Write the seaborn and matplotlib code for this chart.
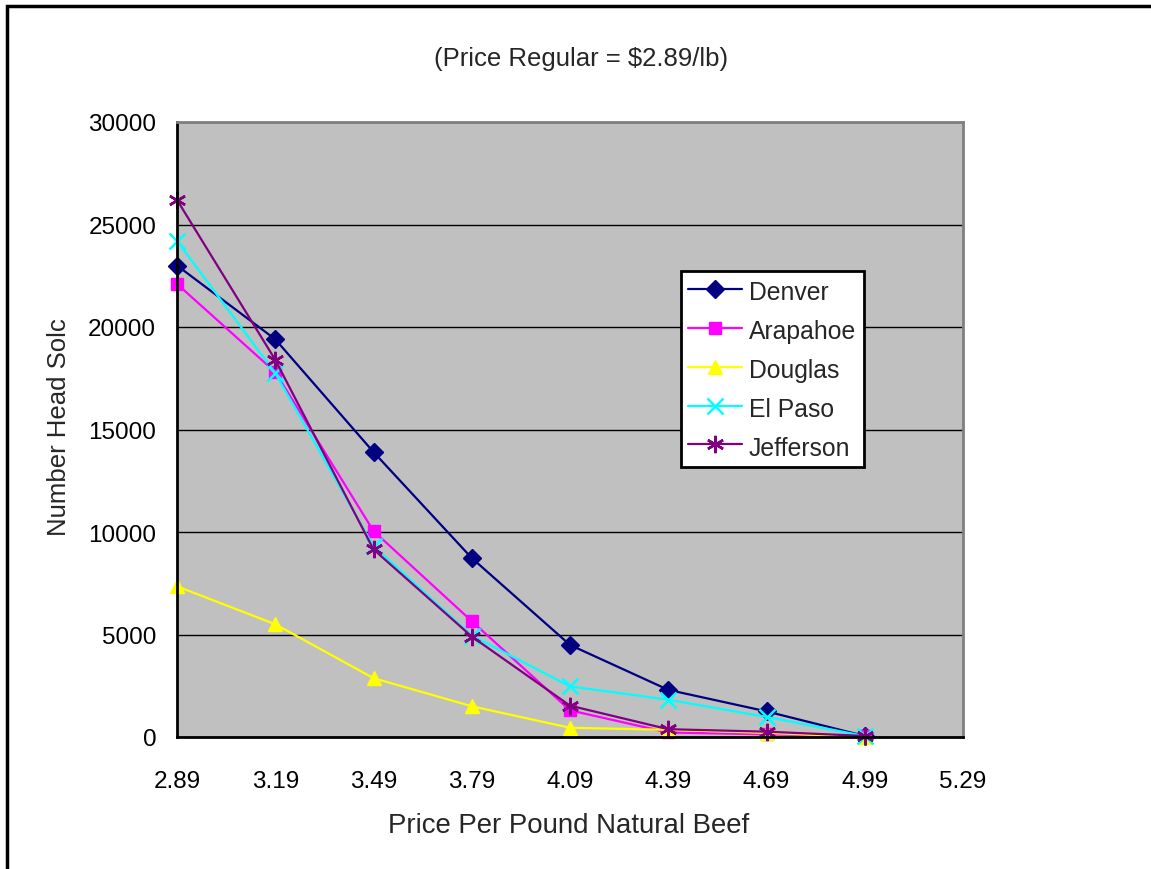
import matplotlib
matplotlib.use("Agg")
import matplotlib.pyplot as plt
import seaborn as sns
import numpy as np
from matplotlib.patches import Rectangle

prices = [2.89, 3.19, 3.49, 3.79, 4.09, 4.39, 4.69, 4.99]
tick_prices = [2.89, 3.19, 3.49, 3.79, 4.09, 4.39, 4.69, 4.99, 5.29]
denver = [23000, 19400, 13900, 8730, 4490, 2300, 1250, 50]
arapahoe = [22100, 17800, 10050, 5650, 1300, 220, 130, 50]
douglas = [7350, 5500, 2870, 1500, 450, 350, 200, 0]
el_paso = [24200, 17750, 9300, 4950, 2470, 1820, 980, 50]
jefferson = [26200, 18400, 9150, 4900, 1530, 380, 260, 50]

series_names = ["Denver", "Arapahoe", "Douglas", "El Paso", "Jefferson"]
series_values = [denver, arapahoe, douglas, el_paso, jefferson]
colors = ["#000080", "#FF00FF", "#FFFF00", "#00FFFF", "#800080"]
markers = ["D", "s", "^", "x", (6, 2, 0)]
msizes = [9.5, 8.5, 10.5, 11, 12.5]

sns.set_style("white")
plt.rcParams["font.family"] = ["Liberation Sans", "DejaVu Sans"]
FS = 17.5

fig = plt.figure(figsize=(11.51, 8.70), dpi=100)
ax = fig.add_axes([177 / 1151, 1 - 738 / 870, (963 - 177) / 1151, (738 - 123) / 870])
ax.set_facecolor("#C0C0C0")

for name, vals, c, m, ms in zip(series_names, series_values, colors, markers, msizes):
    kw = dict(marker=m, markersize=ms, color=c, linewidth=1.6, label=name,
              markeredgecolor=c, markerfacecolor=c, clip_on=False)
    if m == "x" or isinstance(m, tuple):
        kw.update(markeredgewidth=1.8)
    else:
        kw.update(markeredgewidth=1.0)
    sns.lineplot(x=prices, y=vals, ax=ax, **kw)

ax.set_xlim(2.89, 5.29)
ax.set_ylim(0, 30000)
ax.set_xticks(tick_prices)
ax.set_xticklabels([f"{p:.2f}" for p in tick_prices], fontsize=FS)
ax.set_yticks(np.arange(0, 30001, 5000))
ax.set_yticklabels([str(v) for v in range(0, 30001, 5000)], fontsize=FS)
ax.yaxis.grid(True, color="black", linewidth=1.0)
ax.xaxis.grid(False)
ax.set_axisbelow(True)
ax.tick_params(axis="x", direction="out", length=6, width=1.5, pad=18, colors="black")
ax.tick_params(axis="y", direction="out", length=6, width=1.5, pad=9, colors="black")
ax.set_xlabel("")
ax.set_ylabel("")
for side in ["left", "bottom"]:
    ax.spines[side].set_color("black")
    ax.spines[side].set_linewidth(2)
for side in ["top", "right"]:
    ax.spines[side].set_color("#808080")
    ax.spines[side].set_linewidth(2)

leg = ax.legend(loc="upper left", bbox_to_anchor=(681 / 1151, 1 - 272 / 870),
                bbox_transform=fig.transFigure, fontsize=17.8, frameon=True,
                fancybox=False, handlelength=2.15, handletextpad=0.3,
                handleheight=1.2, labelspacing=0.52, borderpad=0.3, borderaxespad=0)
leg.get_frame().set_edgecolor("black")
leg.get_frame().set_linewidth(2)
leg.get_frame().set_facecolor("white")
leg.get_frame().set_alpha(1)
leg.set_zorder(10)

fig.text(581 / 1151, 1 - 59 / 870, "(Price Regular = $2.89/lb)", ha="center",
         va="center", fontsize=18.5, parse_math=False)
fig.text(569 / 1151, 1 - 826 / 870, "Price Per Pound Natural Beef", ha="center",
         va="center", fontsize=19.9)
fig.text(59 / 1151, 1 - 427 / 870, "Number Head Solc", ha="center", va="center",
         rotation=90, fontsize=18.5)

fig.add_artist(Rectangle((7 / 1151, -0.2), 1.5, 1.2 - 7 / 870, transform=fig.transFigure,
                         fill=False, edgecolor="black", linewidth=2.5))

fig.savefig("out.png", dpi=100)
